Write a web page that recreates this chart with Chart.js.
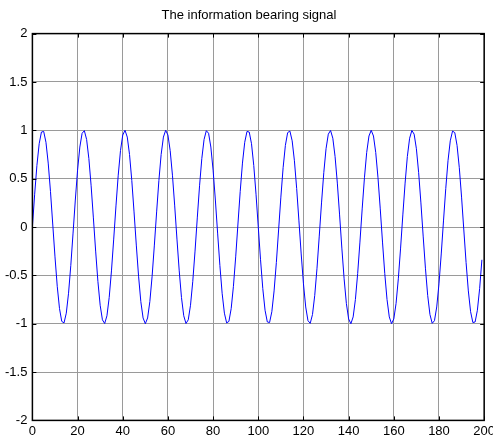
<!DOCTYPE html>
<html lang="en">
<head>
  <meta charset="UTF-8" />
  <title>The information bearing signal</title>
  <script src="https://cdn.jsdelivr.net/npm/chart.js"></script>
  <style>
    html, body { margin: 0; padding: 0; background: #fff; overflow: hidden; }
    #wrap { position: relative; width: 498px; height: 442px; }
  </style>
</head>
<body>
  <div id="wrap"><canvas id="sig"></canvas></div>

  <script>
    // chart data
    const titleText = 'The information bearing signal';
    const xTicks = [0, 20, 40, 60, 80, 100, 120, 140, 160, 180, 200];
    const yTicks = [-2, -1.5, -1, -0.5, 0, 0.5, 1, 1.5, 2];

    // samples 0..99
    const signalFirst = [
      0, 0.339, 0.637, 0.861, 0.982, 0.988, 0.876, 0.661, 0.368, 0.031,
      -0.309, -0.613, -0.844, -0.976, -0.992, -0.891, -0.685, -0.397, -0.063, 0.279,
      0.588, 0.827, 0.969, 0.996, 0.905, 0.707, 0.426, 0.094, -0.249, -0.562,
      -0.809, -0.960, -0.998, -0.918, -0.729, -0.454, -0.125, 0.218, 0.536, 0.790,
      0.951, 1.000, 0.930, 0.750, 0.482, 0.156, -0.187, -0.509, -0.771, -0.941,
      -1.000, -0.941, -0.771, -0.509, -0.187, 0.156, 0.482, 0.750, 0.930, 1.000,
      0.951, 0.790, 0.536, 0.218, -0.125, -0.454, -0.729, -0.918, -0.998, -0.960,
      -0.809, -0.562, -0.249, 0.094, 0.426, 0.707, 0.905, 0.996, 0.969, 0.827,
      0.588, 0.279, -0.063, -0.397, -0.685, -0.891, -0.992, -0.976, -0.844, -0.613,
      -0.309, 0.031, 0.368, 0.661, 0.876, 0.988, 0.982, 0.861, 0.637, 0.339
    ];
    // samples 100..199
    const signalSecond = [
      0, -0.339, -0.637, -0.861, -0.982, -0.988, -0.876, -0.661, -0.368, -0.031,
      0.309, 0.613, 0.844, 0.976, 0.992, 0.891, 0.685, 0.397, 0.063, -0.279,
      -0.588, -0.827, -0.969, -0.996, -0.905, -0.707, -0.426, -0.094, 0.249, 0.562,
      0.809, 0.960, 0.998, 0.918, 0.729, 0.454, 0.125, -0.218, -0.536, -0.790,
      -0.951, -1.000, -0.930, -0.750, -0.482, -0.156, 0.187, 0.509, 0.771, 0.941,
      1.000, 0.941, 0.771, 0.509, 0.187, -0.156, -0.482, -0.750, -0.930, -1.000,
      -0.951, -0.790, -0.536, -0.218, 0.125, 0.454, 0.729, 0.918, 0.998, 0.960,
      0.809, 0.562, 0.249, -0.094, -0.426, -0.707, -0.905, -0.996, -0.969, -0.827,
      -0.588, -0.279, 0.063, 0.397, 0.685, 0.891, 0.992, 0.976, 0.844, 0.613,
      0.309, -0.031, -0.368, -0.661, -0.876, -0.988, -0.982, -0.861, -0.637, -0.339
    ];

    const signal = signalFirst.concat(signalSecond);
    const points = signal.map((v, i) => ({ x: i, y: v }));

    // box round the plot + inward tick marks (matlab look)
    const boxTicks = {
      id: 'boxTicks',
      afterDraw(chart) {
        const { ctx, chartArea: a, scales } = chart;
        ctx.save();
        ctx.strokeStyle = '#000';
        ctx.lineWidth = 1;
        ctx.beginPath();
        xTicks.forEach(t => {
          const px = Math.round(scales.x.getPixelForValue(t)) + 0.5;
          ctx.moveTo(px, a.bottom); ctx.lineTo(px, a.bottom - 4);
          ctx.moveTo(px, a.top); ctx.lineTo(px, a.top + 4);
        });
        yTicks.forEach(t => {
          const py = Math.round(scales.y.getPixelForValue(t)) + 0.5;
          ctx.moveTo(a.left, py); ctx.lineTo(a.left + 4, py);
          ctx.moveTo(a.right, py); ctx.lineTo(a.right - 4, py);
        });
        ctx.stroke();
        ctx.lineWidth = 1.5;
        ctx.strokeRect(a.left, a.top, a.right - a.left, a.bottom - a.top);
        ctx.restore();
      }
    };

    const tickFont = { family: 'Liberation Sans, Arial, sans-serif', size: 13 };

    new Chart(document.getElementById('sig'), {
      type: 'line',
      data: {
        datasets: [{
          data: points,
          borderColor: '#0000ff',
          borderWidth: 1,
          pointRadius: 0,
          tension: 0,
          fill: false
        }]
      },
      options: {
        responsive: true,
        maintainAspectRatio: false,
        animation: false,
        events: [],
        layout: { padding: { left: 0, right: 0, top: 0, bottom: 0 } },
        plugins: {
          legend: { display: false },
          tooltip: { enabled: false },
          title: {
            display: true,
            text: titleText,
            color: '#000',
            font: { family: 'Liberation Sans, Arial, sans-serif', size: 13, weight: 'normal' },
            padding: { top: 8, bottom: 10 }
          }
        },
        scales: {
          x: {
            type: 'linear',
            min: 0,
            max: 200,
            afterBuildTicks: s => { s.ticks = xTicks.map(v => ({ value: v })); },
            ticks: { color: '#000', font: tickFont, padding: 3, maxRotation: 0, callback: v => String(v) },
            grid: { color: '#9a9a9a', lineWidth: 1, drawTicks: false },
            border: { display: false }
          },
          y: {
            min: -2,
            max: 2,
            afterBuildTicks: s => { s.ticks = yTicks.map(v => ({ value: v })); },
            ticks: { color: '#000', font: tickFont, padding: 5, callback: v => String(v) },
            grid: { color: '#9a9a9a', lineWidth: 1, drawTicks: false },
            border: { display: false }
          }
        }
      },
      plugins: [boxTicks]
    });
  </script>
</body>
</html>
